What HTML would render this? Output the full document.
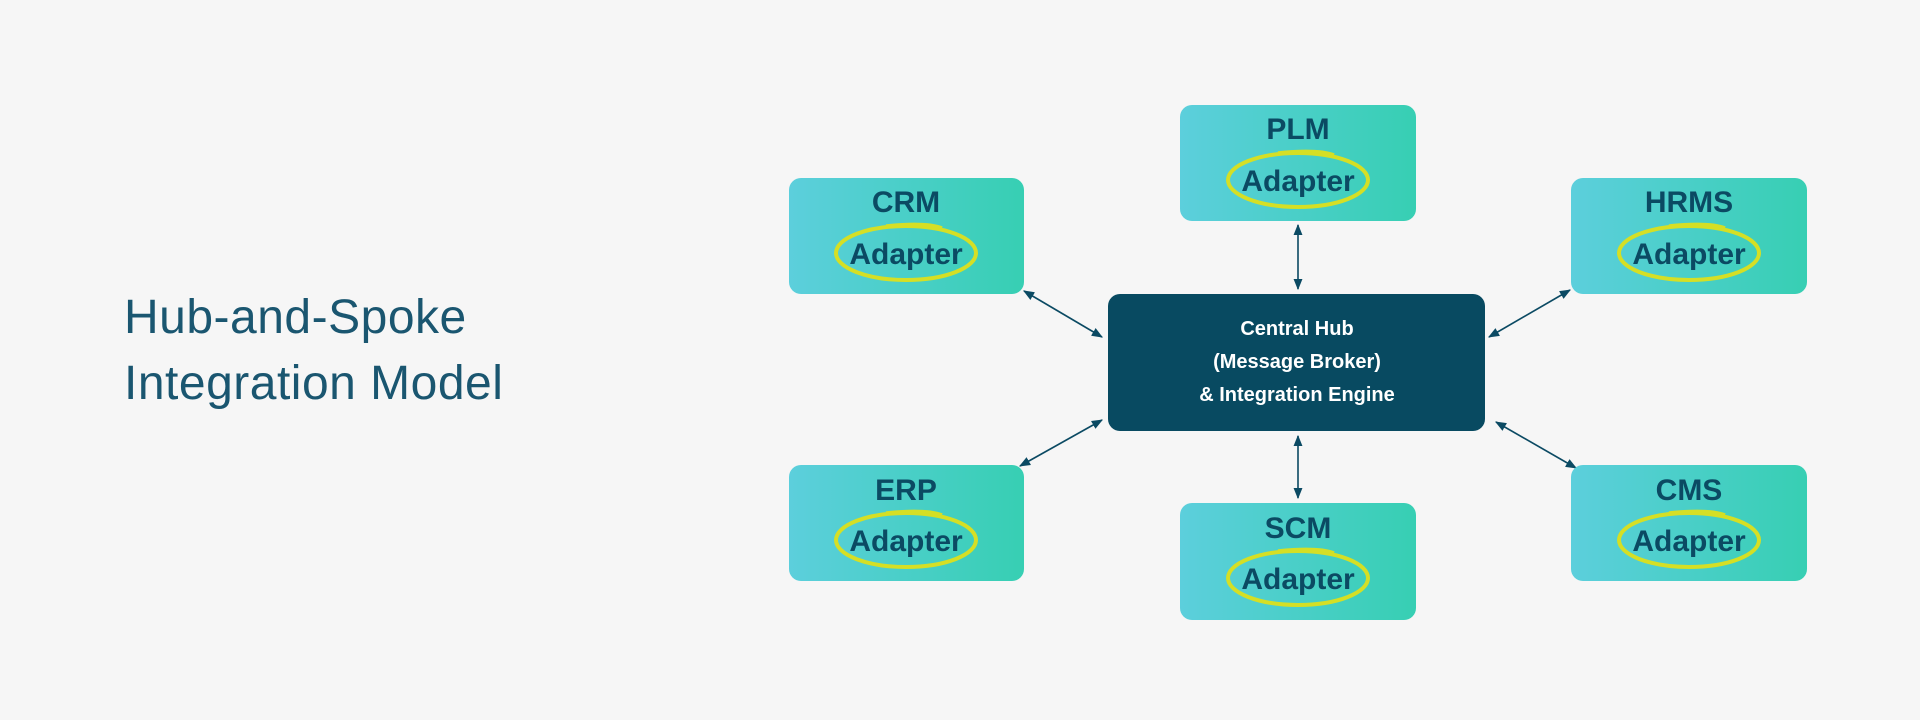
<!DOCTYPE html>
<html><head><meta charset="utf-8"><style>
html,body{margin:0;padding:0;background:#f6f6f6;}
svg{display:block;}
text{font-family:"Liberation Sans",sans-serif;}
</style></head><body>
<svg width="1920" height="720" viewBox="0 0 1920 720" xmlns="http://www.w3.org/2000/svg">
<defs>
<linearGradient id="g" x1="0" y1="0" x2="1" y2="0">
<stop offset="0" stop-color="#5ccfdc"/><stop offset="1" stop-color="#37cfb3"/>
</linearGradient>
<marker id="a" viewBox="0 0 10 10" refX="9" refY="5" markerWidth="7" markerHeight="7" orient="auto-start-reverse">
<path d="M0,1 L10,5 L0,9 Z" fill="#0b4a63"/>
</marker>
<g id="ad">
<ellipse cx="0" cy="0" rx="70" ry="27" fill="none" stroke="#d5df25" stroke-width="4"/>
<path d="M-20,-27 Q20,-31 36,-25" fill="none" stroke="#d5df25" stroke-width="3.5"/>
<text x="0" y="11" text-anchor="middle" font-size="30" font-weight="bold" fill="#0b4a63">Adapter</text>
</g>
</defs>
<rect width="1920" height="720" fill="#f6f6f6"/>
<text x="124" y="333" font-size="48" fill="#1a5670" letter-spacing="0.5">Hub-and-Spoke</text>
<text x="124" y="399" font-size="48" fill="#1a5670" letter-spacing="0.5">Integration Model</text>

<g stroke="#0b4a63" stroke-width="1.6" fill="none" marker-start="url(#a)" marker-end="url(#a)">
<line x1="1024" y1="291" x2="1102" y2="337"/>
<line x1="1298" y1="225" x2="1298" y2="289"/>
<line x1="1570" y1="290" x2="1489" y2="337"/>
<line x1="1020" y1="466" x2="1102" y2="420"/>
<line x1="1298" y1="436" x2="1298" y2="498"/>
<line x1="1496" y1="422" x2="1576" y2="468"/>
</g>

<rect x="1108" y="294" width="377" height="137" rx="12" fill="#084a61"/>
<g font-size="20" font-weight="bold" fill="#ffffff" text-anchor="middle">
<text x="1297" y="335">Central Hub</text>
<text x="1297" y="368">(Message Broker)</text>
<text x="1297" y="401">&amp; Integration Engine</text>
</g>

<g font-size="30" font-weight="bold" fill="#0b4a63" text-anchor="middle">
<rect x="789" y="178" width="235" height="116" rx="12" fill="url(#g)"/>
<text x="906" y="212">CRM</text><use href="#ad" x="906" y="253"/>
<rect x="1180" y="105" width="236" height="116" rx="12" fill="url(#g)"/>
<text x="1298" y="139">PLM</text><use href="#ad" x="1298" y="180"/>
<rect x="1571" y="178" width="236" height="116" rx="12" fill="url(#g)"/>
<text x="1689" y="212">HRMS</text><use href="#ad" x="1689" y="253"/>
<rect x="789" y="465" width="235" height="116" rx="12" fill="url(#g)"/>
<text x="906" y="500">ERP</text><use href="#ad" x="906" y="540"/>
<rect x="1180" y="503" width="236" height="117" rx="12" fill="url(#g)"/>
<text x="1298" y="538">SCM</text><use href="#ad" x="1298" y="578"/>
<rect x="1571" y="465" width="236" height="116" rx="12" fill="url(#g)"/>
<text x="1689" y="500">CMS</text><use href="#ad" x="1689" y="540"/>
</g>
</svg>
</body></html>
